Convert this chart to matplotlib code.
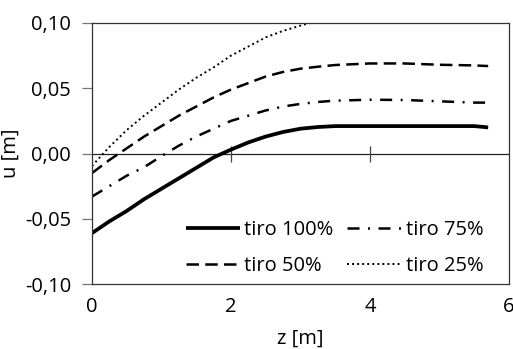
import matplotlib
matplotlib.use("Agg")
import matplotlib.pyplot as plt
from matplotlib.ticker import FuncFormatter

plt.rcParams["font.family"] = ["Open Sans", "DejaVu Sans"]

z = [0.0, 0.25, 0.5, 0.75, 1.0, 1.25, 1.5, 1.75, 2.0, 2.25, 2.5, 2.75,
     3.0, 3.25, 3.5, 4.0, 4.5, 5.0, 5.5, 5.7]
u_100 = [-0.061, -0.052, -0.044, -0.035, -0.027, -0.019, -0.011, -0.003, 0.003, 0.0085,
         0.013, 0.0165, 0.019, 0.0203, 0.021, 0.021, 0.021, 0.021, 0.021, 0.020]
u_75 = [-0.033, -0.025, -0.017, -0.0105, -0.002, 0.006, 0.013, 0.019, 0.025, 0.029,
        0.033, 0.036, 0.038, 0.0395, 0.0405, 0.0412, 0.041, 0.040, 0.039, 0.039]
u_50 = [-0.015, -0.005, 0.004, 0.013, 0.021, 0.029, 0.036, 0.043, 0.049, 0.054,
        0.059, 0.0625, 0.065, 0.0665, 0.0678, 0.069, 0.069, 0.068, 0.0675, 0.067]
z_25 = [0.0, 0.25, 0.5, 0.75, 1.0, 1.25, 1.5, 1.75, 2.0, 2.25, 2.5, 2.75, 3.0, 3.25]
u_25 = [-0.0095, 0.005, 0.018, 0.029, 0.039, 0.049, 0.058, 0.066, 0.075, 0.082,
        0.089, 0.094, 0.098, 0.1015]

xticks = [0, 2, 4, 6]
yticks = [-0.10, -0.05, 0.00, 0.05, 0.10]
FS = 14.5

fig = plt.figure(figsize=(5.13, 3.49), dpi=100)
ax = fig.add_axes([0.1793, 0.1862, 0.8129, 0.7479])

ax.plot(z, u_100, color="black", lw=2.7, solid_capstyle="butt", label="tiro 100%")
ax.plot(z, u_50, color="black", lw=1.8, ls=(0, (5, 2.5)), label="tiro 50%")
ax.plot(z, u_75, color="black", lw=1.8, ls=(0, (4.8, 3.4, 0.8, 3.4)), label="tiro 75%")
ax.plot(z_25, u_25, color="black", lw=1.4, ls=(0, (1, 1.6)), label="tiro 25%")

# excel-style axis: x ticks sit on the zero line, labels stay at the bottom
ax.axhline(0, color="#222222", lw=0.9, zorder=1)
ax.plot(xticks[1:-1], [0] * len(xticks[1:-1]), ls="none", marker="|",
        ms=11, mew=0.9, color="#444444", zorder=1)

ax.set_xlim(0, 6)
ax.set_ylim(-0.10, 0.10)
ax.set_xticks(xticks)
ax.set_yticks(yticks)
ax.yaxis.set_major_formatter(FuncFormatter(lambda v, p: f"{v:.2f}".replace(".", ",")))
ax.tick_params(axis="x", length=0, pad=9, labelsize=FS)
ax.tick_params(axis="y", length=7, width=0.9, color="#777777", pad=8, labelsize=FS)
for s in ax.spines.values():
    s.set_color("#333333")
    s.set_linewidth(0.9)

ax.set_xlabel("z [m]", fontsize=FS, labelpad=8.5)
ax.set_ylabel("u [m]", fontsize=FS)
ax.yaxis.set_label_coords(-0.17, 0.5)

ax.legend(ncol=2, loc="lower right", bbox_to_anchor=(0.958, 0.0), frameon=False,
          fontsize=FS, handlelength=2.7, handletextpad=0.2, columnspacing=0.7,
          labelspacing=0.8, borderaxespad=0.0)

fig.savefig("out.png", dpi=100)
